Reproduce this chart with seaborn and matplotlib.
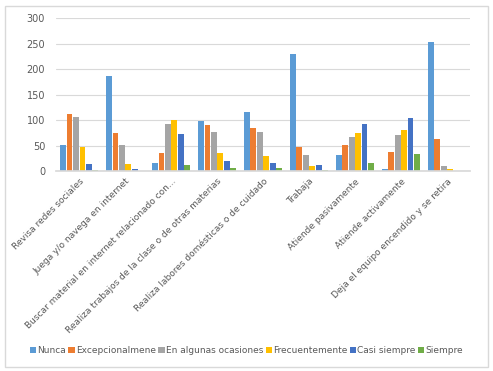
import matplotlib
matplotlib.use("Agg")
import matplotlib.pyplot as plt
import seaborn as sns
import pandas as pd
from matplotlib.patches import Rectangle

categories = [
    "Revisa redes sociales",
    "Juega y/o navega en internet",
    "Buscar material en internet relacionado con...",
    "Realiza trabajos de la clase o de otras materias",
    "Realiza labores domésticas o de cuidado",
    "Trabaja",
    "Atiende pasivamente",
    "Atiende activamente",
    "Deja el equipo encendido y se retira",
]
series = ["Nunca", "Excepcionalmene", "En algunas ocasiones", "Frecuentemente", "Casi siempre", "Siempre"]
nunca = [52, 186, 16, 99, 117, 230, 32, 4, 253]
excepcional = [112, 76, 37, 91, 85, 47, 51, 38, 64]
ocasiones = [106, 51, 92, 78, 78, 32, 68, 71, 11]
frecuente = [47, 14, 100, 37, 31, 10, 75, 81, 4]
casi = [14, 4, 74, 21, 16, 12, 92, 105, 1]
siempre = [3, 0, 13, 6, 6, 3, 17, 34, 0]
colors = ["#5B9BD5", "#ED7D31", "#A5A5A5", "#FFC000", "#4472C4", "#70AD47"]

values = [nunca, excepcional, ocasiones, frecuente, casi, siempre]
rows = []
for s, vals in zip(series, values):
    for c, v in zip(categories, vals):
        rows.append({"cat": c, "serie": s, "val": v})
df = pd.DataFrame(rows)

sns.set_theme(style="white")
plt.rcParams["font.family"] = ["DejaVu Sans"]

fig = plt.figure(figsize=(4.93, 3.71), dpi=100)
ax = fig.add_axes([0.114, 0.538, 0.839, 0.413])
sns.barplot(data=df, x="cat", y="val", hue="serie", hue_order=series, order=categories,
            palette=colors, width=0.84, gap=0.1, ax=ax, legend=True, saturation=1,
            linewidth=0)

ax.set_ylim(0, 300)
ax.set_yticks(range(0, 301, 50))
ax.set_xlim(-0.5, len(categories) - 0.5)
ax.set_xlabel("")
ax.set_ylabel("")
ax.yaxis.grid(True, color="#D9D9D9", linewidth=0.8)
ax.set_axisbelow(True)
for sp in ["top", "right", "left"]:
    ax.spines[sp].set_visible(False)
ax.spines["bottom"].set_color("#D9D9D9")
ax.tick_params(axis="y", labelsize=7, labelcolor="#595959", length=0, pad=8)
ax.tick_params(axis="x", labelsize=6.5, labelcolor="#595959", length=0, pad=4)
ax.set_xticks(range(len(categories)))
ax.set_xticklabels(categories, rotation=45, ha="right", rotation_mode="anchor")

h, l = ax.get_legend_handles_labels()
ax.legend_.remove()
fig.legend(h, l, loc="center", bbox_to_anchor=(0.5, 0.055), ncol=6, frameon=False,
           fontsize=6.5, handlelength=0.7, handleheight=0.7, handletextpad=0.15,
           columnspacing=0.25, labelcolor="#595959")

fig.patches.append(Rectangle((0.01, 0.01), 0.98, 0.975, transform=fig.transFigure,
                             fill=False, edgecolor="#D9D9D9", linewidth=1))

fig.savefig("out.png", dpi=100)
